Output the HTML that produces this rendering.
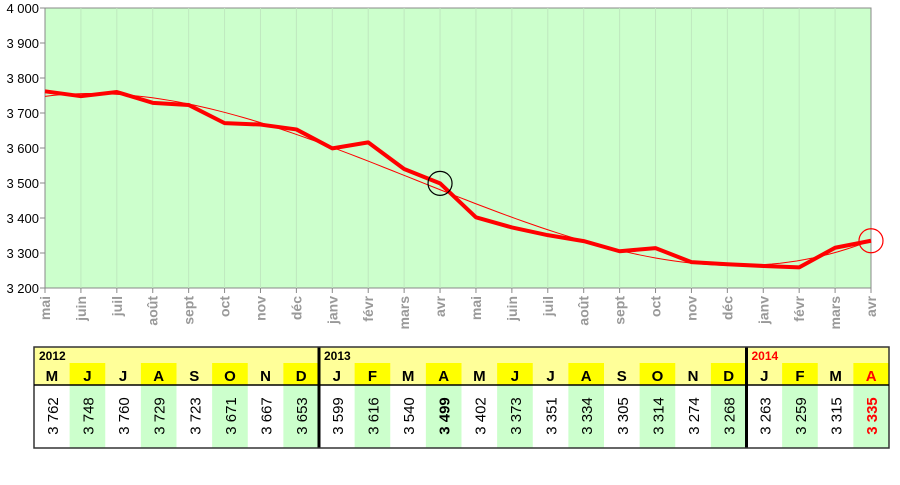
<!DOCTYPE html>
<html><head><meta charset="utf-8"><style>
body{margin:0;background:#fff;font-family:"Liberation Sans",Arial,sans-serif;}
#wrap{position:relative;width:900px;height:485px;overflow:hidden;}
svg text{font-family:"Liberation Sans",Arial,sans-serif;}
</style></head><body>
<div id="wrap">
<svg id="chart" width="900" height="485"></svg>
</div>
<script>
const months=["mai","juin","juil","août","sept","oct","nov","déc","janv","févr","mars","avr","mai","juin","juil","août","sept","oct","nov","déc","janv","févr","mars","avr"];
const letters=["M","J","J","A","S","O","N","D","J","F","M","A","M","J","J","A","S","O","N","D","J","F","M","A"];
const values=[3762,3748,3760,3729,3723,3671,3667,3653,3599,3616,3540,3499,3402,3373,3351,3334,3305,3314,3274,3268,3263,3259,3315,3335];
const yTicks=[3200,3300,3400,3500,3600,3700,3800,3900,4000];
const years=[{label:"2012",start:0,red:false},{label:"2013",start:8,red:false},{label:"2014",start:20,red:true}];

const NS="http://www.w3.org/2000/svg";
const svg=document.getElementById('chart');
const X0=45,X1=871,Y0=288,Y1=8,YMIN=3200,YMAX=4000;
const xs=i=>X0+i*(X1-X0)/(months.length-1);
const ys=v=>Y0-(v-YMIN)/(YMAX-YMIN)*(Y0-Y1);
function mk(tag,attrs,parent){const e=document.createElementNS(NS,tag);for(const k in attrs)e.setAttribute(k,attrs[k]);(parent||svg).appendChild(e);return e;}

let e=mk('rect',{x:X0,y:Y1,width:X1-X0,height:Y0-Y1,fill:'#ccffcc',stroke:'#888','stroke-width':1});


months.forEach((m,i)=>{
  if(i>0&&i<months.length-1){
    const g=mk('line',{x1:xs(i),x2:xs(i),y1:Y1,y2:Y0,stroke:'#bfe8bf','stroke-width':1});
    
    
  }
  const t=mk('line',{x1:xs(i),x2:xs(i),y1:Y0,y2:Y0+5,stroke:'#888'});
  
  
  const l=mk('text',{x:0,y:0,transform:`translate(${xs(i)+5},296) rotate(-90)`,'text-anchor':'end','font-size':14,'font-weight':'bold',fill:'#999'});
  l.textContent=m;
  
  
});
yTicks.forEach(v=>{
  const t=mk('line',{x1:X0-5,x2:X0,y1:ys(v),y2:ys(v),stroke:'#888'});
  
  
  const l=mk('text',{x:39,y:ys(v)+5,'text-anchor':'end','font-size':13,fill:'#000'});
  l.textContent=String(v).replace(/(\d)(\d{3})$/,'$1 $2');
  
  
});
// cubic trend fit
(function(){
  const n=values.length,d=4,A=[];for(let r=0;r<d;r++){A.push(new Array(d+1).fill(0));}
  const tt=i=>i/(n-1);
  for(let i=0;i<n;i++){for(let r=0;r<d;r++){for(let c=0;c<d;c++)A[r][c]+=Math.pow(tt(i),r+c);A[r][d]+=values[i]*Math.pow(tt(i),r);}}
  for(let c=0;c<d;c++){let p=c;for(let r=c+1;r<d;r++)if(Math.abs(A[r][c])>Math.abs(A[p][c]))p=r;[A[c],A[p]]=[A[p],A[c]];
    for(let r=0;r<d;r++){if(r===c)continue;const f=A[r][c]/A[c][c];for(let k=c;k<=d;k++)A[r][k]-=f*A[c][k];}}
  const co=A.map((r,i)=>r[d]/r[i]);
  let pts=[];for(let k=0;k<=100;k++){const u=k/100;let v=0;co.forEach((c,j)=>v+=c*Math.pow(u,j));pts.push(`${X0+u*(X1-X0)},${ys(v)}`);}
  const tl=mk('polyline',{points:pts.join(' '),fill:'none',stroke:'#ff0000','stroke-width':1});
  
  
})();
const ln=mk('polyline',{points:values.map((v,i)=>`${xs(i)},${ys(v)}`).join(' '),fill:'none',stroke:'#ff0000','stroke-width':4,'stroke-linejoin':'round'});


let c1=mk('circle',{cx:xs(11),cy:ys(values[11]),r:12,fill:'none',stroke:'#000','stroke-width':1.2});


let c2=mk('circle',{cx:xs(23),cy:ys(values[23]),r:12,fill:'none',stroke:'#ff0000','stroke-width':1.2});



// table
const TX0=34,TX1=889,TY0=347,TY1=385,TY2=448,cw=(TX1-TX0)/24;
let bg=mk('rect',{x:TX0,y:TY0,width:TX1-TX0,height:TY1-TY0,fill:'#ffff99'});


letters.forEach((L,i)=>{
  const x=TX0+i*cw;
  if(i%2===1){
    const h=mk('rect',{x:x,y:363,width:cw,height:TY1-363,fill:'#ffff00'});
    
    
    const b=mk('rect',{x:x,y:TY1,width:cw,height:TY2-TY1,fill:'#ccffcc'});
    
    
  }
  const last=i===letters.length-1;
  const t=mk('text',{x:x+cw/2,y:381,'text-anchor':'middle','font-size':15,'font-weight':'bold',fill:last?'#ff0000':'#000'});
  t.textContent=L;
  
  
  const bold=(i===11||last);
  const v=mk('text',{x:0,y:0,transform:`translate(${x+cw/2+6},416) rotate(-90)`,'text-anchor':'middle','font-size':15,'font-weight':bold?'bold':'normal',fill:last?'#ff0000':'#000'});
  v.textContent=String(values[i]).replace(/(\d)(\d{3})$/,'$1 $2');
  
  
});
years.forEach(y=>{
  const t=mk('text',{x:TX0+y.start*cw+5,y:360,'font-size':12,'font-weight':'bold',fill:y.red?'#ff0000':'#000'});
  t.textContent=y.label;
  
  
  if(y.start>0){
    const s=mk('line',{x1:TX0+y.start*cw,x2:TX0+y.start*cw,y1:TY0,y2:TY2,stroke:'#000','stroke-width':3});
    
    
  }
});
let bx=mk('rect',{x:TX0,y:TY0,width:TX1-TX0,height:TY2-TY0,fill:'none',stroke:'#333','stroke-width':1.5});


let hl=mk('line',{x1:TX0,x2:TX1,y1:TY1,y2:TY1,stroke:'#000','stroke-width':1.5});


</script>
</body></html>
